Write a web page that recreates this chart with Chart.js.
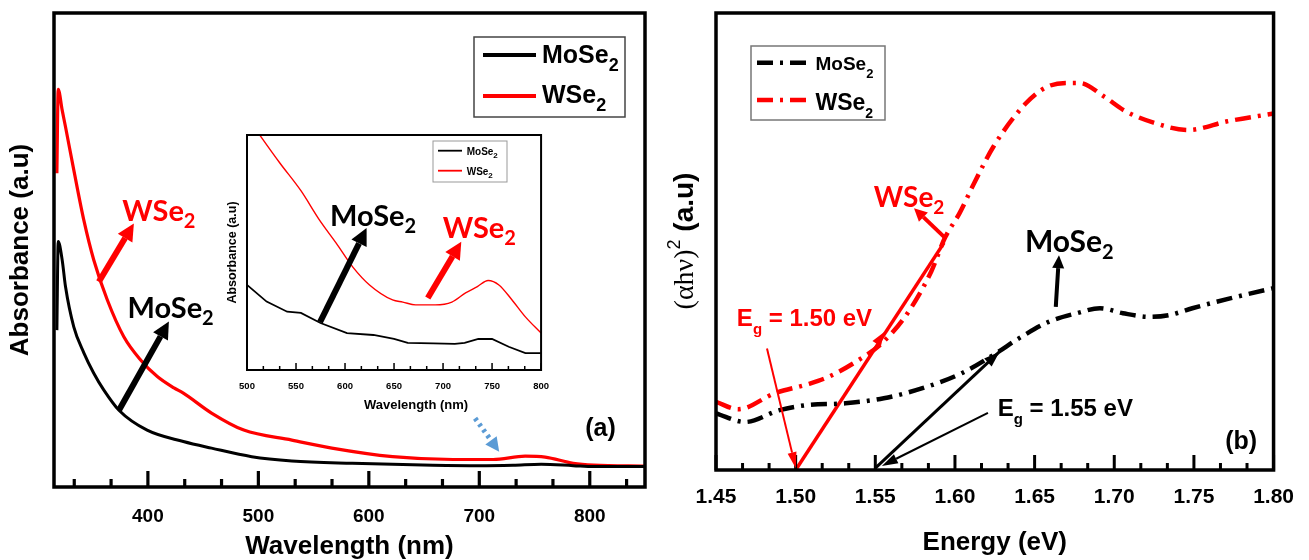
<!DOCTYPE html>
<html>
<head>
<meta charset="utf-8">
<script src="https://cdn.jsdelivr.net/npm/chart.js@4.4.1/dist/chart.umd.min.js"></script>
<style>
  body { margin: 0; background: #fff; }
  #wrap { position: relative; width: 1309px; height: 560px; overflow: hidden; }
  canvas { position: absolute; }
</style>
</head>
<body>
<div id="wrap">
  <canvas id="chartA" width="660" height="560" style="left:0;top:0"></canvas>
  <canvas id="chartB" width="649" height="560" style="left:660px;top:0"></canvas>
  <canvas id="chartIn" width="360" height="300" style="left:200px;top:125px"></canvas>
</div>
<script>
// (a) absorbance spectra (arbitrary units 0..1)
var wlMo  = [317.6, 318.8, 322.4, 325.4, 332.9, 342, 351, 360, 373.8, 399.3, 432.1, 457.6, 494, 530.3, 585, 658, 700, 730.6, 756, 785, 803.6, 850];
var absMo = [0.331, 0.518, 0.479, 0.423, 0.338, 0.283, 0.240, 0.205, 0.162, 0.120, 0.096, 0.082, 0.064, 0.055, 0.050, 0.046, 0.045, 0.046, 0.048, 0.045, 0.043, 0.043];
var wlW   = [317.6, 318.8, 322.4, 325.4, 332.9, 342, 351, 363.2, 378.2, 393.4, 408.5, 423.6, 432.1, 457.6, 486.8, 530.3, 566.5, 621.5, 676.2, 712.5, 741.5, 759.6, 785, 803.6, 850];
var absW  = [0.662, 0.839, 0.795, 0.760, 0.669, 0.563, 0.479, 0.395, 0.317, 0.268, 0.233, 0.209, 0.198, 0.156, 0.120, 0.099, 0.082, 0.064, 0.058, 0.058, 0.065, 0.063, 0.050, 0.046, 0.044];

// inset, 500-800 nm
var insWlMo  = [500, 520, 541, 555, 575, 602, 629, 650, 664, 690, 712, 722, 736, 750, 767, 784, 800];
var insAbsMo = [0.362, 0.291, 0.248, 0.243, 0.200, 0.157, 0.149, 0.132, 0.115, 0.113, 0.111, 0.115, 0.132, 0.132, 0.099, 0.072, 0.072];
var insWlW   = [500, 513, 533.5, 555, 574, 591, 608, 625, 648.5, 659, 672, 692, 709, 723, 735, 746, 757, 770, 784, 800];
var insAbsW  = [1.077, 1.0, 0.881, 0.763, 0.638, 0.540, 0.438, 0.362, 0.298, 0.289, 0.277, 0.277, 0.289, 0.328, 0.355, 0.381, 0.362, 0.300, 0.226, 0.157];

// (b) Tauc plot
var eMo   = [1.450, 1.4682, 1.4899, 1.5069, 1.5312, 1.5553, 1.5796, 1.6038, 1.6256, 1.6401, 1.6594, 1.6764, 1.6910, 1.7054, 1.7224, 1.7345, 1.7490, 1.7733, 1.7962, 1.80];
var tauMo = [0.124, 0.105, 0.131, 0.142, 0.146, 0.157, 0.179, 0.211, 0.255, 0.288, 0.325, 0.343, 0.354, 0.343, 0.335, 0.339, 0.354, 0.376, 0.395, 0.398];
var eW    = [1.450, 1.4639, 1.4870, 1.5079, 1.5207, 1.5388, 1.5543, 1.5698, 1.5852, 1.5937, 1.6029, 1.6121, 1.6244, 1.6447, 1.6575, 1.6704, 1.6782, 1.6937, 1.7066, 1.7247, 1.7465, 1.7710, 1.80];
var tauW  = [0.149, 0.133, 0.168, 0.188, 0.204, 0.239, 0.278, 0.341, 0.435, 0.508, 0.562, 0.628, 0.709, 0.803, 0.838, 0.847, 0.847, 0.817, 0.786, 0.760, 0.744, 0.763, 0.780];
// linear fits down to the energy axis
var fitWE  = [1.50, 1.5931];
var fitWY  = [0.0, 0.497];
var fitMoE = [1.55, 1.628];
var fitMoY = [0.004, 0.259];

// tick labels
var ticksA  = [400, 500, 600, 700, 800];
var ticksIn = [500, 550, 600, 650, 700, 750, 800];
var ticksB  = [1.45, 1.50, 1.55, 1.60, 1.65, 1.70, 1.75, 1.80];

var SANS = '"Liberation Sans", Arial, sans-serif';
var CAL = 'Lato, "Open Sans", sans-serif';
Chart.defaults.font.family = SANS;
Chart.defaults.color = '#000';

function pts(xs, ys) {
  return xs.map(function (x, i) { return { x: x, y: ys[i] }; });
}

function arrow(ctx, x1, y1, x2, y2, o) {
  var ang = Math.atan2(y2 - y1, x2 - x1);
  var L = o.head || 14, W = o.headW || 10;
  var bx = x2 - L * Math.cos(ang), by = y2 - L * Math.sin(ang);
  ctx.save();
  ctx.strokeStyle = o.color; ctx.fillStyle = o.color;
  if (o.shaft !== false) {
    ctx.lineWidth = o.width || 2;
    ctx.setLineDash(o.dash || []);
    ctx.beginPath(); ctx.moveTo(x1, y1); ctx.lineTo(bx, by); ctx.stroke();
    ctx.setLineDash([]);
  }
  ctx.beginPath();
  ctx.moveTo(x2, y2);
  ctx.lineTo(bx + W / 2 * Math.sin(ang), by - W / 2 * Math.cos(ang));
  ctx.lineTo(bx - W / 2 * Math.sin(ang), by + W / 2 * Math.cos(ang));
  ctx.closePath(); ctx.fill();
  ctx.restore();
}

// text with a subscript (and optional tail text)
function subText(ctx, x, y, t) {
  var fam = t.family || CAL;
  var main = 'bold ' + t.size + 'px ' + fam;
  ctx.save();
  ctx.fillStyle = t.color || '#000';
  ctx.textAlign = 'left'; ctx.textBaseline = 'alphabetic';
  ctx.font = main;
  ctx.fillText(t.text, x, y);
  var w = ctx.measureText(t.text).width;
  if (t.sub) {
    ctx.font = 'bold ' + t.subSize + 'px ' + fam;
    ctx.fillText(t.sub, x + w, y + t.subDy);
    w += ctx.measureText(t.sub).width;
  }
  if (t.after) {
    ctx.font = main;
    ctx.fillText(t.after, x + w, y);
  }
  ctx.restore();
}

// box round the plot and ticks pointing inward from the bottom axis
var framePlugin = {
  id: 'frame',
  afterDatasetsDraw: function (chart, args, o) {
    var ctx = chart.ctx, a = chart.chartArea, sx = chart.scales.x;
    ctx.save();
    ctx.strokeStyle = '#000';
    ctx.lineWidth = o.tickWidth;
    var step = (o.major[1] - o.major[0]) / 3;
    var first = o.major[0];
    while (first - step >= sx.min - 1e-9) first -= step;
    for (var v = first; v <= sx.max + 1e-9; v += step) {
      var isMajor = o.major.some(function (m) { return Math.abs(m - v) < step / 10; });
      var px = sx.getPixelForValue(v);
      var len = isMajor ? o.majorLen : o.minorLen;
      ctx.beginPath(); ctx.moveTo(px, a.bottom); ctx.lineTo(px, a.bottom - len); ctx.stroke();
    }
    ctx.lineWidth = o.width;
    ctx.strokeRect(a.left, a.top, a.right - a.left, a.bottom - a.top);
    // axis title that sits off-centre (inset)
    if (o.xTitle) {
      ctx.font = 'bold ' + o.xTitle.size + 'px ' + SANS;
      ctx.fillStyle = '#000';
      ctx.textAlign = 'center'; ctx.textBaseline = 'middle';
      ctx.fillText(o.xTitle.text, (a.left + a.right) / 2 + o.xTitle.shift, a.bottom + o.xTitle.dy);
    }
    ctx.restore();
  }
};

// legend with subscripts, samples taken from the datasets
var keysPlugin = {
  id: 'keys',
  afterDraw: function (chart, args, o) {
    var ctx = chart.ctx, b = o.box;
    ctx.save();
    ctx.fillStyle = '#fff';
    ctx.fillRect(b[0], b[1], b[2], b[3]);
    ctx.strokeStyle = o.borderColor; ctx.lineWidth = o.borderWidth;
    ctx.strokeRect(b[0], b[1], b[2], b[3]);
    o.rows.forEach(function (r) {
      var ds = chart.data.datasets[r.ds];
      ctx.strokeStyle = ds.borderColor;
      ctx.lineWidth = o.sampleWidth;
      ctx.setLineDash(ds.borderDash || []);
      ctx.beginPath(); ctx.moveTo(o.lineX[0], r.lineY); ctx.lineTo(o.lineX[1], r.lineY); ctx.stroke();
      ctx.setLineDash([]);
      subText(ctx, o.textX, r.y, { text: r.text, sub: '2', size: r.size, subSize: r.subSize, subDy: r.subDy, family: SANS, color: '#000' });
    });
    ctx.restore();
  }
};

// arrows and labels placed in data coordinates
var notesPlugin = {
  id: 'notes',
  afterDraw: function (chart, args, o) {
    var ctx = chart.ctx, sx = chart.scales.x, sy = chart.scales.y;
    (o.arrows || []).forEach(function (r) {
      arrow(ctx, sx.getPixelForValue(r.x1), sy.getPixelForValue(r.y1),
        sx.getPixelForValue(r.x2), sy.getPixelForValue(r.y2), r);
    });
    (o.texts || []).forEach(function (t) {
      subText(ctx, sx.getPixelForValue(t.x), sy.getPixelForValue(t.y), t);
    });
  }
};

// (αhν)² (a.u) axis title for panel (b)
var tauTitlePlugin = {
  id: 'tauTitle',
  afterDraw: function (chart) {
    var ctx = chart.ctx;
    var parts = [
      { t: '(\u03b1h\u03bd)', f: '28px "Liberation Serif", "DejaVu Serif", serif', dy: 0 },
      { t: '2', f: '18px ' + SANS, dy: -13 },
      { t: ' (a.u)', f: 'bold 28px ' + SANS, dy: 0 }
    ];
    ctx.save();
    ctx.translate(23, 241);
    ctx.rotate(-Math.PI / 2);
    ctx.fillStyle = '#000';
    ctx.textBaseline = 'alphabetic';
    var total = 0;
    parts.forEach(function (p) { ctx.font = p.f; p.w = ctx.measureText(p.t).width; total += p.w; });
    var x = -total / 2;
    parts.forEach(function (p) { ctx.font = p.f; ctx.fillText(p.t, x, 10 + p.dy); x += p.w; });
    ctx.restore();
  }
};

var noTooltip = { legend: { display: false }, tooltip: { enabled: false } };

// ---------- panel (a) ----------
new Chart(document.getElementById('chartA'), {
  type: 'line',
  data: {
    datasets: [
      { label: 'MoSe2', data: pts(wlMo, absMo), borderColor: '#000', borderWidth: 3, pointRadius: 0, cubicInterpolationMode: 'monotone' },
      { label: 'WSe2', data: pts(wlW, absW), borderColor: '#ff0000', borderWidth: 3.2, pointRadius: 0, cubicInterpolationMode: 'monotone' }
    ]
  },
  options: {
    responsive: false, animation: false, events: [],
    layout: { padding: { top: 13, right: 15, left: 0, bottom: 0 } },
    plugins: Object.assign({}, noTooltip, {
      frame: { width: 3.5, tickWidth: 3.2, major: ticksA, majorLen: 16, minorLen: 8 },
      keys: {
        box: [474, 37, 151, 80], borderColor: '#444', borderWidth: 1.5,
        lineX: [483, 536], textX: 542, sampleWidth: 4,
        rows: [
          { ds: 0, lineY: 55, y: 63, text: 'MoSe', size: 25, subSize: 18, subDy: 8 },
          { ds: 1, lineY: 96, y: 103, text: 'WSe', size: 25, subSize: 18, subDy: 8 }
        ]
      },
      notes: {
        arrows: [
          { x1: 355.6, y1: 0.433, x2: 387.3, y2: 0.556, color: '#ff0000', width: 6, head: 17, headW: 17 },
          { x1: 373.8, y1: 0.162, x2: 419, y2: 0.349, color: '#000', width: 6, head: 17, headW: 17 },
          { x1: 696.2, y1: 0.145, x2: 718, y2: 0.0745, color: '#5b9bd5', width: 5, head: 14, headW: 14, dash: [3, 4] }
        ],
        texts: [
          { x: 376.8, y: 0.561, text: 'WSe', sub: '2', color: '#ff0000', size: 29, subSize: 20, subDy: 7 },
          { x: 381.6, y: 0.357, text: 'MoSe', sub: '2', color: '#000', size: 29, subSize: 20, subDy: 7 },
          { x: 795.9, y: 0.108, text: '(a)', color: '#000', size: 25, family: SANS }
        ]
      }
    }),
    scales: {
      x: {
        type: 'linear', min: 315, max: 850,
        grid: { display: false, drawTicks: false }, border: { display: false },
        afterBuildTicks: function (s) { s.ticks = ticksA.map(function (v) { return { value: v }; }); },
        afterFit: function (s) { s.height = 73; },
        ticks: { font: { size: 19, weight: 'bold' }, color: '#000', padding: 18, maxRotation: 0, autoSkip: false,
          callback: function (v) { return String(v); } },
        title: { display: true, text: 'Wavelength (nm)', color: '#000', font: { size: 26, weight: 'bold', lineHeight: 1 }, padding: { top: 0, bottom: 0 } }
      },
      y: {
        min: 0, max: 1,
        grid: { display: false, drawTicks: false }, border: { display: false },
        ticks: { display: false },
        afterFit: function (s) { s.width = 54; },
        title: { display: true, text: 'Absorbance (a.u)', color: '#000', font: { size: 26, weight: 'bold', lineHeight: 1 }, padding: { top: 8, bottom: 0 } }
      }
    }
  },
  plugins: [framePlugin, notesPlugin, keysPlugin]
});

// ---------- inset ----------
new Chart(document.getElementById('chartIn'), {
  type: 'line',
  data: {
    datasets: [
      { label: 'MoSe2', data: pts(insWlMo, insAbsMo), borderColor: '#000', borderWidth: 1.8, pointRadius: 0, tension: 0 },
      { label: 'WSe2', data: pts(insWlW, insAbsW), borderColor: '#ff0000', borderWidth: 1.4, pointRadius: 0, cubicInterpolationMode: 'monotone' }
    ]
  },
  options: {
    responsive: false, animation: false, events: [],
    layout: { padding: { top: 10, right: 18, left: 0, bottom: 0 } },
    plugins: Object.assign({}, noTooltip, {
      frame: { width: 2, tickWidth: 1.5, major: ticksIn, majorLen: 7, minorLen: 4,
        xTitle: { text: 'Wavelength (nm)', size: 13, shift: 22, dy: 35 } },
      keys: {
        box: [233, 16, 74, 41], borderColor: '#999', borderWidth: 1,
        lineX: [238, 262], textX: 266.7, sampleWidth: 1.8,
        rows: [
          { ds: 0, lineY: 25.7, y: 30, text: 'MoSe', size: 10, subSize: 8, subDy: 3 },
          { ds: 1, lineY: 45.7, y: 50, text: 'WSe', size: 10, subSize: 8, subDy: 3 }
        ]
      },
      notes: {
        arrows: [
          { x1: 574.5, y1: 0.204, x2: 622, y2: 0.604, color: '#000', width: 6, head: 17, headW: 17 },
          { x1: 684.4, y1: 0.306, x2: 718.6, y2: 0.546, color: '#ff0000', width: 6, head: 17, headW: 17 }
        ],
        texts: [
          { x: 584.7, y: 0.613, text: 'MoSe', sub: '2', color: '#000', size: 29, subSize: 20, subDy: 7 },
          { x: 699.6, y: 0.562, text: 'WSe', sub: '2', color: '#ff0000', size: 29, subSize: 20, subDy: 7 }
        ]
      }
    }),
    scales: {
      x: {
        type: 'linear', min: 500, max: 800,
        grid: { display: false, drawTicks: false }, border: { display: false },
        afterBuildTicks: function (s) { s.ticks = ticksIn.map(function (v) { return { value: v }; }); },
        afterFit: function (s) { s.height = 55; },
        ticks: { font: { size: 9.5, weight: 'bold' }, color: '#000', padding: 11, maxRotation: 0, autoSkip: false,
          callback: function (v) { return String(v); } }
      },
      y: {
        min: 0, max: 1,
        grid: { display: false, drawTicks: false }, border: { display: false },
        ticks: { display: false },
        afterFit: function (s) { s.width = 47; },
        title: { display: true, text: 'Absorbance (a.u)', color: '#000', font: { size: 12.5, weight: 'bold', lineHeight: 1 }, padding: { top: 26, bottom: 0 } }
      }
    }
  },
  plugins: [framePlugin, notesPlugin, keysPlugin]
});

// ---------- panel (b) ----------
new Chart(document.getElementById('chartB'), {
  type: 'line',
  data: {
    datasets: [
      { label: 'MoSe2', data: pts(eMo, tauMo), borderColor: '#000', borderWidth: 4.5, borderDash: [16, 7, 3, 7], pointRadius: 0, cubicInterpolationMode: 'monotone' },
      { label: 'WSe2', data: pts(eW, tauW), borderColor: '#ff0000', borderWidth: 4.5, borderDash: [16, 7, 3, 7], pointRadius: 0, cubicInterpolationMode: 'monotone' },
      { label: 'fit WSe2', data: pts(fitWE, fitWY), borderColor: '#ff0000', borderWidth: 3.5, pointRadius: 0 },
      { label: 'fit MoSe2', data: pts(fitMoE, fitMoY), borderColor: '#000', borderWidth: 3, pointRadius: 0 }
    ]
  },
  options: {
    responsive: false, animation: false, events: [],
    layout: { padding: { top: 13, right: 21, left: 0, bottom: 0 } },
    plugins: Object.assign({}, noTooltip, {
      frame: { width: 3.5, tickWidth: 3, major: ticksB, majorLen: 15, minorLen: 7 },
      keys: {
        box: [91, 46, 134, 74], borderColor: '#777', borderWidth: 1.5,
        lineX: [97, 146], textX: 155.5, sampleWidth: 4.5,
        rows: [
          { ds: 0, lineY: 62.7, y: 70, text: 'MoSe', size: 19, subSize: 13, subDy: 8 },
          { ds: 1, lineY: 100, y: 110, text: 'WSe', size: 23, subSize: 14, subDy: 8 }
        ]
      },
      notes: {
        arrows: [
          { x1: 1.5935, y1: 0.509, x2: 1.5743, y2: 0.573, color: '#ff0000', width: 4, head: 13, headW: 13 },
          { x1: 1.6633, y1: 0.357, x2: 1.6653, y2: 0.470, color: '#000', width: 4, head: 13, headW: 12 },
          { x1: 1.482, y1: 0.266, x2: 1.5001, y2: 0.004, color: '#ff0000', width: 2, head: 16, headW: 9 },
          { x1: 1.6207, y1: 0.125, x2: 1.5541, y2: 0.009, color: '#000', width: 2, head: 16, headW: 10 },
          { x1: 1.55, y1: 0.004, x2: 1.628, y2: 0.259, color: '#000', shaft: false, head: 16, headW: 11 },
          { x1: 1.50, y1: 0.0, x2: 1.5556, y2: 0.302, color: '#ff0000', shaft: false, head: 14, headW: 10 }
        ],
        texts: [
          { x: 1.5491, y: 0.575, text: 'WSe', sub: '2', color: '#ff0000', size: 28, subSize: 19, subDy: 7 },
          { x: 1.6439, y: 0.477, text: 'MoSe', sub: '2', color: '#000', size: 30, subSize: 20, subDy: 7 },
          { x: 1.4631, y: 0.315, text: 'E', sub: 'g', after: ' = 1.50 eV', color: '#ff0000', size: 24, subSize: 15, subDy: 8, family: SANS },
          { x: 1.6268, y: 0.118, text: 'E', sub: 'g', after: ' = 1.55 eV', color: '#000', size: 24, subSize: 15, subDy: 8, family: SANS },
          { x: 1.7696, y: 0.046, text: '(b)', color: '#000', size: 25, family: SANS }
        ]
      }
    }),
    scales: {
      x: {
        type: 'linear', min: 1.45, max: 1.80,
        grid: { display: false, drawTicks: false }, border: { display: false },
        afterBuildTicks: function (s) { s.ticks = ticksB.map(function (v) { return { value: v }; }); },
        afterFit: function (s) { s.height = 90; },
        ticks: { font: { size: 21, weight: 'bold' }, color: '#000', padding: 15, maxRotation: 0, autoSkip: false,
          callback: function (v) { return Number(v).toFixed(2); } },
        title: { display: true, text: 'Energy (eV)', color: '#000', font: { size: 26, weight: 'bold', lineHeight: 1 }, padding: { top: 0, bottom: 4 } }
      },
      y: {
        min: 0, max: 1,
        grid: { display: false, drawTicks: false }, border: { display: false },
        ticks: { display: false },
        afterFit: function (s) { s.width = 56; }
      }
    }
  },
  plugins: [framePlugin, notesPlugin, keysPlugin, tauTitlePlugin]
});
</script>
</body>
</html>
